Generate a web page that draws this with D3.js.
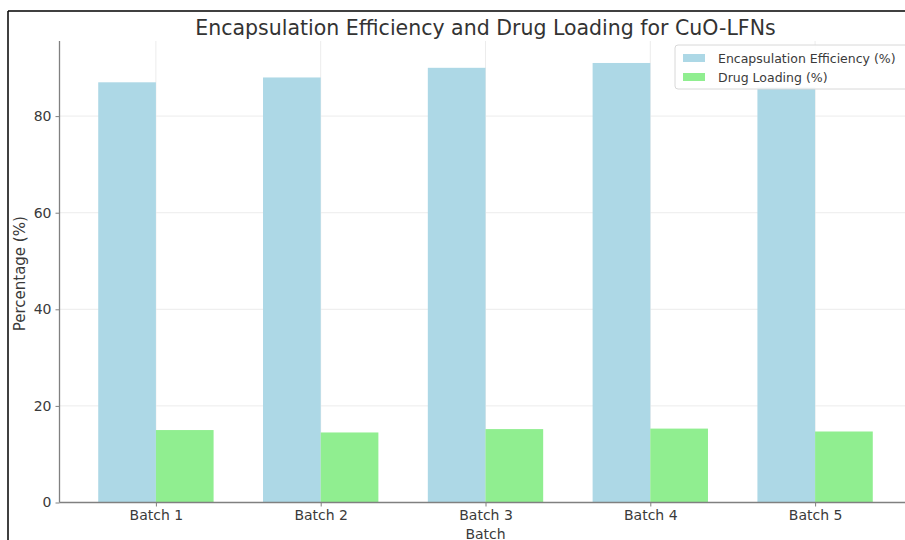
<!DOCTYPE html>
<html>
<head>
<meta charset="utf-8">
<script src="https://cdn.jsdelivr.net/npm/d3@7"></script>
<style>
  html, body { margin: 0; padding: 0; background: #fff; }
  svg { display: block; font-family: "DejaVu Sans", sans-serif; }
</style>
</head>
<body>
<svg id="chart" width="905" height="540"></svg>
<script>
// Batches and measured values
const batches = ["Batch 1", "Batch 2", "Batch 3", "Batch 4", "Batch 5"];
const encapsulation = [87, 88, 90, 91, 86];
const drugLoading = [15.0, 14.5, 15.2, 15.3, 14.7];
const yTicks = [0, 20, 40, 60, 80];
const seriesNames = ["Encapsulation Efficiency (%)", "Drug Loading (%)"];
const seriesColors = ["#add8e6", "#90ee90"];

const svg = d3.select("#chart");

// Plot area (right edge runs past the visible frame)
const plotL = 59.5, plotR = 911.5, plotT = 41, plotB = 502.5;
const barW = 0.35;

const x = d3.scaleLinear().domain([-0.585, 4.585]).range([plotL, plotR]);
const y = d3.scaleLinear().domain([0, 95.55]).range([plotB, plotT]);

// Outer frame: top and left edges
svg.append("line").attr("x1", 8).attr("x2", 905).attr("y1", 11).attr("y2", 11)
  .attr("stroke", "#000").attr("stroke-width", 1.5);
svg.append("line").attr("x1", 8).attr("x2", 8).attr("y1", 11).attr("y2", 540)
  .attr("stroke", "#000").attr("stroke-width", 1.5);

// Grid
const grid = svg.append("g");
grid.selectAll("line.h").data(yTicks).join("line")
  .attr("x1", plotL).attr("x2", plotR)
  .attr("y1", d => y(d)).attr("y2", d => y(d))
  .attr("stroke", "#ececec").attr("stroke-width", 1);
grid.selectAll("line.v").data(batches).join("line")
  .attr("x1", (d, i) => x(i)).attr("x2", (d, i) => x(i))
  .attr("y1", plotT).attr("y2", plotB)
  .attr("stroke", "#ececec").attr("stroke-width", 1);

// Bars
const series = [encapsulation, drugLoading];
series.forEach((vals, s) => {
  svg.append("g").selectAll("rect").data(vals).join("rect")
    .attr("x", (d, i) => x(i + (s === 0 ? -barW : 0)))
    .attr("width", x(barW) - x(0))
    .attr("y", d => y(d))
    .attr("height", d => y(0) - y(d))
    .attr("fill", seriesColors[s]);
});

// Axes
const axisColor = "#808080";
const xAxis = svg.append("g").attr("transform", `translate(0,${plotB})`)
  .call(d3.axisBottom(x).tickValues(d3.range(batches.length))
    .tickFormat(i => batches[i]).tickSize(4).tickPadding(4));
const yAxis = svg.append("g").attr("transform", `translate(${plotL},0)`)
  .call(d3.axisLeft(y).tickValues(yTicks).tickSize(4).tickPadding(4));
[xAxis, yAxis].forEach(g => {
  g.select(".domain").attr("stroke", axisColor).attr("stroke-width", 1.3);
  g.selectAll(".tick line").attr("stroke", axisColor);
  g.selectAll(".tick text").attr("fill", "#3a3a3a")
    .style("font-size", "14px").style("font-family", "DejaVu Sans, sans-serif");
});
yAxis.select(".domain").attr("d", `M0,${plotB}V${plotT}`);
xAxis.select(".domain").attr("d", `M${plotL},0H${plotR}`);

// Axis titles
svg.append("text").attr("x", (plotL + plotR) / 2).attr("y", 539)
  .attr("text-anchor", "middle").attr("fill", "#3a3a3a")
  .style("font-size", "14px").text("Batch");
svg.append("text")
  .attr("transform", `translate(25,${(plotT + plotB) / 2 + 2}) rotate(-90)`)
  .attr("text-anchor", "middle").attr("fill", "#3a3a3a")
  .style("font-size", "15px").text("Percentage (%)");

// Title
svg.append("text").attr("x", (plotL + plotR) / 2).attr("y", 35)
  .attr("text-anchor", "middle").attr("fill", "#333")
  .style("font-size", "20.5px").text("Encapsulation Efficiency and Drug Loading for CuO-LFNs");

// Legend
const lg = svg.append("g").attr("transform", "translate(675,45)");
lg.append("rect").attr("width", 240).attr("height", 44).attr("rx", 3)
  .attr("fill", "#fff").attr("fill-opacity", 0.9)
  .attr("stroke", "#d8d8d8").attr("stroke-width", 1);
seriesNames.forEach((name, i) => {
  const row = lg.append("g").attr("transform", `translate(0,${13 + i * 19})`);
  row.append("rect").attr("x", 8).attr("y", -4).attr("width", 22).attr("height", 8)
    .attr("fill", seriesColors[i]);
  row.append("text").attr("x", 43).attr("y", 4.5).attr("fill", "#3a3a3a")
    .style("font-size", "12.5px").text(name);
});
</script>
</body>
</html>
